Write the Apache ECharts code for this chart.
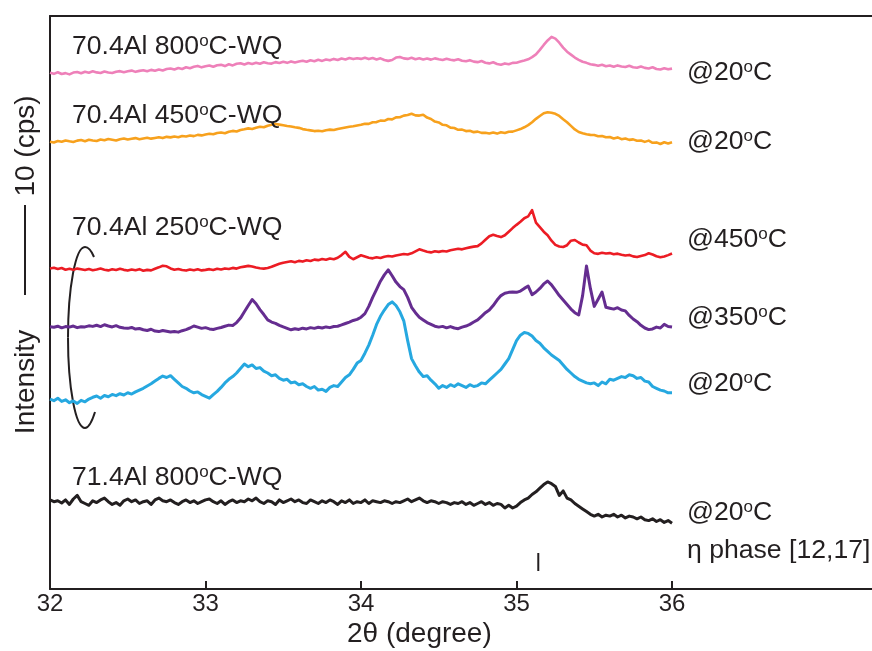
<!DOCTYPE html>
<html>
<head>
<meta charset="utf-8">
<script src="https://cdn.jsdelivr.net/npm/echarts@6/dist/echarts.min.js"></script>
<style>
  html, body { margin: 0; padding: 0; background: #ffffff; }
  #chart { width: 872px; height: 651px; }
</style>
</head>
<body>
<div id="chart"></div>
<script>
// 2θ scan grid (degrees)
const scanStart = 32.0;
const scanStep = 0.025;

// axis ticks (degrees)
const xTickValues = [32, 33, 34, 35, 36];

// counts above each trace's own baseline (cps), one value per scan step
const intensity704Al800 = [
  1.35, 1.24, 1.42, 1.22, 1.32, 1.18, 1.38, 1.44, 1.30, 1.47,
  1.36, 1.52, 1.40, 1.34, 1.50, 1.38, 1.33, 1.48, 1.54, 1.42,
  1.52, 1.60, 1.46, 1.57, 1.64, 1.52, 1.68, 1.58, 1.72, 1.61,
  1.77, 1.84, 1.72, 1.88, 1.78, 1.97, 1.86, 2.02, 2.12, 1.96,
  2.08, 2.17, 2.03, 2.20, 2.24, 2.10, 2.30, 2.18, 2.36, 2.42,
  2.28, 2.44, 2.34, 2.48, 2.36, 2.52, 2.42, 2.38, 2.54, 2.45,
  2.58, 2.46, 2.62, 2.50, 2.60, 2.70, 2.58, 2.74, 2.64, 2.80,
  2.68, 2.84, 2.74, 2.90, 2.78, 2.94, 2.84, 3.00, 2.88, 2.98,
  2.90, 3.02, 2.88, 2.99, 2.84, 2.96, 2.78, 2.68, 2.78, 3.05,
  3.12, 2.96, 2.90, 3.02, 2.86, 2.97, 2.84, 2.94, 2.82, 2.96,
  2.86, 2.78, 2.92, 2.80, 2.74, 2.86, 2.70, 2.64, 2.76, 2.60,
  2.54, 2.66, 2.48, 2.40, 2.52, 2.34, 2.26, 2.40, 2.30, 2.46,
  2.48, 2.60, 2.72, 2.86, 3.10, 3.40, 3.90, 4.45, 4.95, 5.35,
  5.15, 4.70, 4.15, 3.70, 3.38, 3.05, 2.80, 2.58, 2.46, 2.30,
  2.24, 2.14, 2.24, 2.08, 2.16, 2.02, 2.18, 2.06, 2.00, 2.14,
  1.98, 1.92, 2.06, 1.90, 1.84, 1.97, 1.78, 1.72, 1.86, 1.74,
  1.82
];

const intensity704Al450 = [
  0.70, 0.62, 0.78, 0.70, 0.84, 0.74, 0.66, 0.82, 0.88, 0.76,
  0.92, 0.84, 0.78, 0.94, 0.86, 1.00, 0.92, 0.84, 0.98, 1.06,
  0.94, 1.02, 1.10, 0.98, 1.06, 1.14, 1.04, 1.12, 1.20, 1.10,
  1.24, 1.18, 1.28, 1.20, 1.34, 1.28, 1.38, 1.32, 1.46, 1.40,
  1.50, 1.58, 1.52, 1.66, 1.72, 1.64, 1.80, 1.90, 1.84, 2.00,
  2.08, 2.18, 2.12, 2.26, 2.36, 2.30, 2.48, 2.58, 2.66, 2.60,
  2.52, 2.44, 2.38, 2.30, 2.24, 2.10, 2.02, 1.96, 1.88, 1.92,
  1.86, 1.98, 2.04, 2.00, 2.12, 2.20, 2.28, 2.36, 2.42, 2.50,
  2.58, 2.70, 2.68, 2.86, 2.88, 3.04, 3.02, 3.22, 3.18, 3.40,
  3.42, 3.60, 3.66, 3.80, 3.62, 3.60, 3.70, 3.38, 3.22, 2.94,
  2.84, 2.58, 2.52, 2.26, 2.22, 2.02, 2.04, 1.88, 1.92, 1.76,
  1.82, 1.68, 1.70, 1.62, 1.72, 1.60, 1.76, 1.66, 1.80, 1.82,
  1.96, 2.10, 2.30, 2.54, 2.86, 3.24, 3.56, 3.86, 3.98, 3.92,
  3.80, 3.56, 3.20, 2.86, 2.46, 2.06, 1.78, 1.64, 1.52, 1.46,
  1.44, 1.30, 1.34, 1.20, 1.22, 1.06, 1.18, 0.98, 1.06, 0.90,
  0.96, 0.80, 0.84, 0.68, 0.82, 0.58, 0.62, 0.44, 0.64, 0.50,
  0.64
];

const intensity704Al250At450 = [
  0.62, 0.70, 0.55, 0.66, 0.48, 0.58, 0.46, 0.60, 0.52, 0.44,
  0.56, 0.42, 0.50, 0.60, 0.48, 0.40, 0.52, 0.44, 0.58, 0.46,
  0.38, 0.50, 0.42, 0.54, 0.36, 0.46, 0.40, 0.58, 0.74, 0.92,
  0.86, 0.62, 0.48, 0.56, 0.44, 0.38, 0.50, 0.42, 0.52, 0.40,
  0.46, 0.54, 0.44, 0.58, 0.50, 0.62, 0.56, 0.68, 0.60, 0.74,
  0.82, 0.90, 0.84, 0.72, 0.64, 0.60, 0.66, 0.80, 0.98, 1.14,
  1.26, 1.34, 1.42, 1.30, 1.46, 1.38, 1.52, 1.44, 1.60, 1.54,
  1.66, 1.58, 1.72, 1.64, 1.80, 2.10, 2.46, 1.90, 1.64, 1.86,
  2.08, 1.94, 1.80, 1.74, 1.86, 1.78, 1.92, 2.00, 1.94, 2.06,
  2.14, 2.22, 2.16, 2.30, 2.52, 2.74, 2.60, 2.48, 2.40, 2.52,
  2.46, 2.56, 2.50, 2.64, 2.72, 2.80, 2.74, 2.86, 2.96, 3.04,
  3.10, 3.40, 3.80, 4.20, 4.36, 4.22, 4.10, 4.30, 4.70, 5.10,
  5.46, 5.80, 6.20, 6.40, 7.10, 5.70, 5.20, 4.70, 4.30, 3.70,
  3.24, 3.06, 3.00, 3.20, 3.70, 3.78, 3.50, 3.26, 3.20, 2.60,
  2.30, 2.24, 2.36, 2.28, 2.32, 2.20, 2.26, 2.14, 2.06, 2.12,
  1.96, 1.88, 2.00, 2.10, 2.30, 2.16, 1.98, 1.86, 1.94, 2.10,
  2.28
];

const intensity704Al250At350 = [
  1.14, 1.08, 1.20, 1.02, 1.16, 1.10, 1.22, 1.04, 1.14, 1.12,
  1.24, 1.18, 1.30, 1.16, 1.36, 1.22, 1.12, 1.26, 1.08, 1.00,
  0.96, 1.06, 0.88, 0.94, 0.80, 0.72, 0.86, 0.66, 0.60, 0.72,
  0.64, 0.56, 0.62, 0.54, 0.70, 0.82, 1.00, 1.22, 1.10, 0.96,
  1.04, 0.90, 0.84, 0.96, 1.06, 1.20, 1.32, 1.28, 1.60, 2.10,
  2.80, 3.50, 4.16, 3.70, 3.04, 2.50, 1.90, 1.66, 1.52, 1.30,
  1.12, 0.96, 0.80, 0.92, 0.84, 0.98, 0.90, 1.04, 0.96, 1.08,
  1.00, 1.12, 1.04, 1.16, 1.20, 1.34, 1.50, 1.66, 1.84, 1.96,
  2.20, 2.60, 3.40, 4.40, 5.30, 6.20, 6.90, 7.46, 6.80, 6.10,
  5.60, 5.26, 4.40, 3.30, 2.70, 2.20, 1.90, 1.60, 1.40, 1.20,
  1.10, 1.18, 1.02, 1.16, 1.00, 0.92, 1.10, 1.22, 1.40, 1.66,
  1.90, 2.30, 2.70, 3.00, 3.50, 4.10, 4.60, 4.86, 4.96, 5.00,
  4.96, 5.10, 5.40, 5.66, 4.70, 5.00, 5.40, 5.90, 6.22, 5.80,
  5.20, 4.60, 4.10, 3.60, 3.10, 2.70, 2.44, 4.60, 7.90, 5.40,
  3.40, 4.20, 5.00, 3.30, 3.20, 3.10, 3.26, 3.00, 2.90, 2.40,
  2.00, 1.70, 1.30, 1.00, 0.82, 0.90, 1.10, 1.00, 1.40, 1.16,
  1.10
];

const intensity704Al250At20 = [
  1.10, 0.92, 1.20, 0.84, 1.02, 0.70, 0.90, 0.62, 0.96, 0.80,
  1.10, 1.30, 1.44, 1.20, 1.50, 1.36, 1.62, 1.48, 1.70, 1.56,
  1.80, 1.66, 1.90, 2.10, 2.30, 2.56, 2.80, 3.10, 3.40, 3.66,
  3.50, 3.70, 3.30, 2.90, 2.50, 2.30, 2.00, 1.80, 1.90, 1.60,
  1.40, 1.20, 1.60, 1.96, 2.40, 2.90, 3.30, 3.60, 4.00, 4.50,
  5.00, 4.70, 4.90, 4.50, 4.60, 4.20, 4.00, 3.70, 3.80, 3.40,
  3.20, 3.30, 2.90, 3.00, 2.70, 2.80, 2.50, 2.30, 2.50, 2.10,
  2.20, 1.96, 2.40, 2.60, 2.50, 3.00, 3.50, 3.80, 4.40, 5.10,
  5.40, 6.20, 7.10, 8.20, 9.40, 10.30, 11.00, 11.60, 11.90, 11.50,
  10.80, 9.80, 7.60, 5.60, 4.80, 4.10, 3.60, 3.70, 3.20, 2.80,
  2.30, 2.60, 2.40, 2.70, 2.50, 2.80, 2.60, 2.40, 2.70, 2.50,
  2.60, 2.90, 2.80, 3.20, 3.60, 4.00, 4.40, 5.00, 5.60, 6.60,
  7.60, 8.20, 8.50, 8.40, 8.10, 7.60, 7.30, 6.80, 6.40, 6.00,
  5.70, 5.40, 4.90, 4.40, 4.00, 3.60, 3.30, 3.10, 2.90, 2.80,
  2.90, 2.60, 3.00, 2.80, 3.30, 3.20, 3.40, 3.60, 3.50, 3.80,
  3.70, 3.40, 3.50, 3.10, 3.00, 2.50, 2.30, 2.10, 2.00, 1.80,
  1.80
];

const intensity714Al800 = [
  2.90, 2.70, 2.80, 2.56, 2.90, 2.40, 3.00, 3.40, 2.70, 2.50,
  2.30, 2.80, 2.60, 2.90, 3.10, 2.70, 2.40, 2.60, 2.30, 2.80,
  3.00, 2.70, 2.90, 2.50, 2.70, 2.80, 2.40, 2.90, 3.10, 2.80,
  2.70, 2.90, 2.60, 2.40, 2.70, 2.90, 2.60, 2.80, 2.50, 2.70,
  2.90, 3.00, 2.70, 2.50, 2.80, 2.40, 2.70, 2.90, 2.60, 2.80,
  2.70, 3.00, 2.80, 3.10, 2.70, 2.50, 2.80, 2.70, 2.40, 2.90,
  2.60, 2.80, 3.00, 2.70, 2.90, 2.60, 2.50, 2.90, 2.70, 2.50,
  2.80, 2.60, 2.90, 2.70, 2.40, 2.80, 2.60, 2.90, 2.50, 2.70,
  2.60, 2.90, 2.50, 2.80, 2.70, 2.60, 2.80, 2.70, 2.50, 2.70,
  2.60, 2.80, 3.00, 2.70, 2.90, 3.10, 2.80, 2.60, 2.80, 2.70,
  2.50, 2.70, 2.60, 2.40, 2.60, 2.50, 2.70, 2.40, 2.60, 2.30,
  2.50, 2.70, 2.40, 2.60, 2.30, 2.50, 2.40, 2.00, 2.30, 2.00,
  2.20, 2.60, 2.90, 3.10, 3.50, 3.80, 4.20, 4.60, 4.90, 4.70,
  4.40, 3.40, 3.90, 3.10, 2.90, 2.50, 2.20, 1.90, 1.60, 1.30,
  1.10, 1.30, 1.00, 1.20, 1.10, 1.30, 1.00, 1.20, 0.90, 1.10,
  1.00, 0.80, 1.00, 0.70, 0.60, 0.80, 0.50, 0.70, 0.40, 0.60,
  0.30
];

// vertical stacking offsets of the traces (cps)
const traceOffsets = [56, 49, 35, 28, 20, 7];
const traceNames = [
  '70.4Al 800°C-WQ @20°C',
  '70.4Al 450°C-WQ @20°C',
  '70.4Al 250°C-WQ @450°C',
  '70.4Al 250°C-WQ @350°C',
  '70.4Al 250°C-WQ @20°C',
  '71.4Al 800°C-WQ @20°C'
];
const traceValues = [
  intensity704Al800, intensity704Al450, intensity704Al250At450,
  intensity704Al250At350, intensity704Al250At20, intensity714Al800
];

// reference reflection of the η phase
const etaPhasePeaks = [35.14];
const etaMarkerRange = [2.0, 4.0];

// intensity scale bar (cps)
const scaleBarCps = 10;

const ink = '#231f20';
const fontFamily = '"Liberation Sans", Arial, Helvetica, sans-serif';
const traceColors = ['#ee80b9', '#f7a11d', '#ec1c24', '#652d90', '#26a8e0', '#231f20'];
const traceWidths = [2.6, 2.6, 2.6, 3, 3, 3];

function toPoints(values, offset) {
  return values.map((v, i) => [+(scanStart + i * scanStep).toFixed(3), +(v + offset).toFixed(3)]);
}

const series = traceValues.map((vals, k) => ({
  name: traceNames[k],
  type: 'line',
  data: toPoints(vals, traceOffsets[k]),
  showSymbol: false,
  symbol: 'none',
  silent: true,
  lineStyle: { color: traceColors[k], width: traceWidths[k], join: 'round' },
  z: 3
}));

const etaData = [];
etaPhasePeaks.forEach((p, i) => {
  if (i > 0) etaData.push(null);
  etaData.push([p, etaMarkerRange[0]], [p, etaMarkerRange[1]]);
});
series.push({
  name: 'η phase [12,17]',
  type: 'line',
  data: etaData,
  showSymbol: false,
  symbol: 'none',
  silent: true,
  connectNulls: false,
  lineStyle: { color: ink, width: 2 }
});

const chart = echarts.init(document.getElementById('chart'), null, { renderer: 'canvas' });

const option = {
  animation: false,
  backgroundColor: '#ffffff',
  grid: { left: 50, right: 0, top: 16, bottom: 62, containLabel: false, outerBoundsMode: 'none' },
  xAxis: [
    {
      type: 'value',
      min: 32,
      max: 37.286,
      interval: 1,
      position: 'bottom',
      axisLine: { show: true, onZero: false, lineStyle: { color: ink, width: 2 } },
      axisTick: { show: true, inside: true, length: 8, customValues: xTickValues.slice(1), lineStyle: { color: ink, width: 2 } },
      axisLabel: { show: true, customValues: xTickValues, margin: 3, fontSize: 24, color: ink, fontFamily: fontFamily },
      splitLine: { show: false }
    },
    {
      type: 'value',
      min: 32,
      max: 37.286,
      position: 'top',
      axisLine: { show: true, onZero: false, lineStyle: { color: ink, width: 2 } },
      axisTick: { show: false },
      axisLabel: { show: false },
      splitLine: { show: false }
    }
  ],
  yAxis: {
    type: 'value',
    min: 0,
    max: 63.667,
    axisLine: { show: true, onZero: false, lineStyle: { color: ink, width: 2 } },
    axisTick: { show: false },
    axisLabel: { show: false },
    splitLine: { show: false }
  },
  series: series
};

chart.setOption(option);

// annotations
const supRich = { s: { fontSize: 17, lineHeight: 20, verticalAlign: 'top', fontFamily: fontFamily, fill: ink } };
function textEl(x, y, text, size, extra) {
  return Object.assign({
    type: 'text', x: x, y: y, silent: true, z: 10,
    style: {
      text: text, fontSize: size, fontFamily: fontFamily, fill: ink,
      align: 'left', verticalAlign: 'middle', lineHeight: 28, rich: supRich
    }
  }, extra || {});
}

const y0 = chart.convertToPixel({ yAxisIndex: 0 }, 0);
const barLen = y0 - chart.convertToPixel({ yAxisIndex: 0 }, scaleBarCps);
const barTop = 205;

const graphics = [
  textEl(72, 46.5, '70.4Al 800{s|o}C-WQ', 26.6),
  textEl(72, 115.5, '70.4Al 450{s|o}C-WQ', 26.6),
  textEl(72, 228, '70.4Al 250{s|o}C-WQ', 26.6),
  textEl(72, 477.5, '71.4Al 800{s|o}C-WQ', 26.6),
  textEl(687, 73, '@20{s|o}C', 26.6),
  textEl(687, 141.5, '@20{s|o}C', 26.6),
  textEl(687, 240, '@450{s|o}C', 26.6),
  textEl(687, 318, '@350{s|o}C', 26.6),
  textEl(687, 383.5, '@20{s|o}C', 26.6),
  textEl(687, 513, '@20{s|o}C', 26.6),
  textEl(687, 551, 'η phase [12,17]', 26.6),
  textEl(347, 634, '2θ (degree)', 28),
  {
    type: 'text', x: 26, y: 382, rotation: Math.PI / 2, silent: true,
    style: { text: 'Intensity', fontSize: 28, fontFamily: fontFamily, fill: ink, align: 'center', verticalAlign: 'middle' }
  },
  {
    type: 'text', x: 26, y: 146, rotation: Math.PI / 2, silent: true,
    style: { text: '10 (cps)', fontSize: 28, fontFamily: fontFamily, fill: ink, align: 'center', verticalAlign: 'middle' }
  },
  {
    type: 'line', silent: true,
    shape: { x1: 25, y1: barTop, x2: 25, y2: barTop + barLen },
    style: { stroke: ink, lineWidth: 2 }
  },
  // bracket grouping the three in-situ scans
  {
    type: 'bezierCurve', silent: true,
    shape: { x1: 85, y1: 247, cpx1: 75.6, cpy1: 247, cpx2: 68, cpy2: 287.5, x2: 68, y2: 337.5 },
    style: { stroke: ink, lineWidth: 2, fill: null }
  },
  {
    type: 'bezierCurve', silent: true,
    shape: { x1: 68, y1: 337.5, cpx1: 68, cpy1: 387.5, cpx2: 75.6, cpy2: 428, x2: 85, y2: 428 },
    style: { stroke: ink, lineWidth: 2, fill: null }
  },
  {
    type: 'bezierCurve', silent: true,
    shape: { x1: 85, y1: 247, cpx1: 88.5, cpy1: 247, cpx2: 91.5, cpy2: 251, x2: 94, y2: 257 },
    style: { stroke: ink, lineWidth: 2, fill: null }
  },
  {
    type: 'bezierCurve', silent: true,
    shape: { x1: 85, y1: 428, cpx1: 89, cpy1: 428, cpx2: 92.5, cpy2: 420, x2: 95, y2: 412 },
    style: { stroke: ink, lineWidth: 2, fill: null }
  }
];

chart.setOption({ graphic: graphics });
</script>
</body>
</html>
